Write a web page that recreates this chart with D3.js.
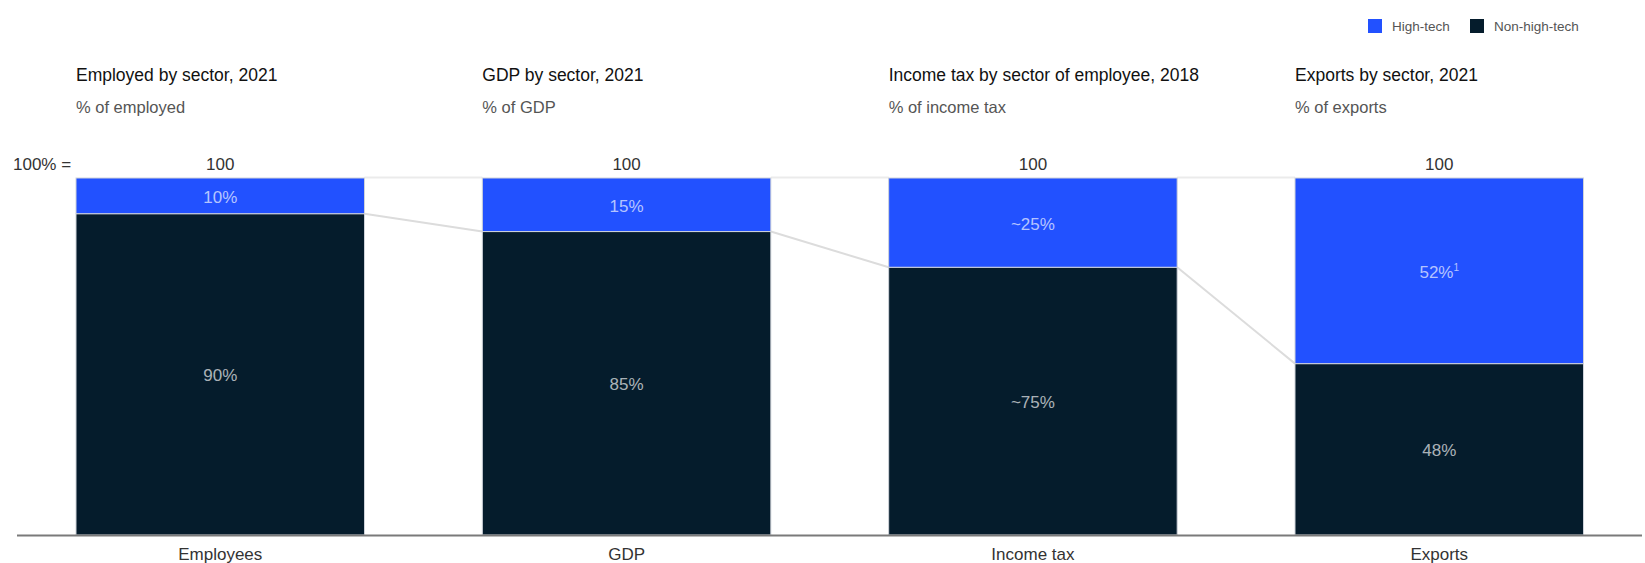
<!DOCTYPE html>
<html>
<head>
<meta charset="utf-8">
<script src="https://cdn.jsdelivr.net/npm/d3@7"></script>
<style>
  html, body { margin: 0; padding: 0; background: #fff; }
  svg { display: block; font-family: "Liberation Sans", Arial, Helvetica, sans-serif; }
</style>
</head>
<body>
<svg id="chart" width="1645" height="563"></svg>
<script>
// Share of high-tech vs non-high-tech sectors across four measures
const categories = ["Employees", "GDP", "Income tax", "Exports"];
const titles = [
  "Employed by sector, 2021",
  "GDP by sector, 2021",
  "Income tax by sector of employee, 2018",
  "Exports by sector, 2021"
];
const subtitles = ["% of employed", "% of GDP", "% of income tax", "% of exports"];
const totals = [100, 100, 100, 100];
const highTech = [10, 15, 25, 52];
const nonHighTech = [90, 85, 75, 48];
const highTechLabels = ["10%", "15%", "~25%", "52%"];
const nonHighTechLabels = ["90%", "85%", "~75%", "48%"];
const highTechNotes = ["", "", "", "1"];
const seriesNames = ["High-tech", "Non-high-tech"];

const colors = { high: "#2251FF", non: "#051C2C" };

const svg = d3.select("#chart");
const width = 1645;

const x = d3.scaleBand()
  .domain(categories)
  .range([76, 1583.5])
  .paddingInner(0.29)
  .paddingOuter(0);

const y = d3.scaleLinear().domain([0, 100]).range([535, 178]);

const rows = categories.map((c, i) => ({
  cat: c, i,
  high: highTech[i], non: nonHighTech[i],
  total: totals[i]
}));

// Connector lines between neighbouring bars: top edge and high-tech boundary
const conn = svg.append("g");
rows.slice(0, -1).forEach((d, i) => {
  const n = rows[i + 1];
  conn.append("line")
    .attr("x1", x(d.cat) + x.bandwidth()).attr("x2", x(n.cat))
    .attr("y1", y(100) - 0.5).attr("y2", y(100) - 0.5)
    .attr("stroke", "#ebebeb").attr("stroke-width", 2);
  conn.append("line")
    .attr("x1", x(d.cat) + x.bandwidth()).attr("x2", x(n.cat))
    .attr("y1", y(d.non)).attr("y2", y(n.non))
    .attr("stroke", "#dcdcdc").attr("stroke-width", 2);
});

// Stacked bars: non-high-tech at the bottom, high-tech on top
const bars = svg.append("g");
bars.selectAll("rect.non").data(rows).join("rect")
  .attr("class", "non")
  .attr("x", d => x(d.cat)).attr("width", x.bandwidth())
  .attr("y", d => y(d.non)).attr("height", d => y(0) - y(d.non))
  .attr("fill", colors.non)
  .attr("stroke", "#cfd3da").attr("stroke-width", 1);
bars.selectAll("rect.high").data(rows).join("rect")
  .attr("class", "high")
  .attr("x", d => x(d.cat)).attr("width", x.bandwidth())
  .attr("y", d => y(d.non + d.high)).attr("height", d => y(d.non) - y(d.non + d.high))
  .attr("fill", colors.high)
  .attr("stroke", "#cfd3da").attr("stroke-width", 1);

// Segment value labels
const lab = svg.append("g").attr("font-size", 17).attr("text-anchor", "middle");
rows.forEach((d, i) => {
  const cx = x(d.cat) + x.bandwidth() / 2;
  const t = lab.append("text")
    .attr("x", cx)
    .attr("y", (y(d.non) + y(d.non + d.high)) / 2 + 7)
    .attr("fill", "#fff").attr("fill-opacity", 0.68)
    .text(highTechLabels[i]);
  if (highTechNotes[i]) {
    t.append("tspan").attr("font-size", 10).attr("dy", -7).text(highTechNotes[i]);
  }
  lab.append("text")
    .attr("x", cx)
    .attr("y", (y(0) + y(d.non)) / 2 + 7)
    .attr("fill", "#fff").attr("fill-opacity", 0.68)
    .text(nonHighTechLabels[i]);
});

// Totals above each bar
const tot = svg.append("g").attr("font-size", 17).attr("fill", "#333").attr("text-anchor", "middle");
tot.selectAll("text").data(rows).join("text")
  .attr("x", d => x(d.cat) + x.bandwidth() / 2)
  .attr("y", 170)
  .text(d => d.total);
svg.append("text").attr("x", 13).attr("y", 170)
  .attr("font-size", 17).attr("fill", "#333").text("100% =");

// Panel titles and units
const head = svg.append("g");
rows.forEach((d, i) => {
  head.append("text").attr("x", x(d.cat)).attr("y", 81)
    .attr("font-size", 17.5).attr("fill", "#111").text(titles[i]);
  head.append("text").attr("x", x(d.cat)).attr("y", 113)
    .attr("font-size", 16.5).attr("fill", "#555").text(subtitles[i]);
});

// Baseline axis with category labels
const axis = svg.append("g").attr("transform", `translate(0,${y(0)})`)
  .call(d3.axisBottom(x).tickSize(0).tickPadding(13));
axis.select(".domain").remove();
axis.selectAll("text").attr("font-size", 17).attr("fill", "#333")
  .attr("font-family", "Liberation Sans, Arial, sans-serif");
svg.append("line").attr("x1", 17).attr("x2", 1642)
  .attr("y1", y(0) + 0.5).attr("y2", y(0) + 0.5)
  .attr("stroke", "#7a7a7a").attr("stroke-width", 2);

// Legend
const legend = svg.append("g").attr("font-size", 13.5).attr("fill", "#555");
const legendX = [1368, 1470];
seriesNames.forEach((name, i) => {
  legend.append("rect").attr("x", legendX[i]).attr("y", 19).attr("width", 14).attr("height", 14)
    .attr("fill", i === 0 ? colors.high : colors.non);
  legend.append("text").attr("x", legendX[i] + 24).attr("y", 31).attr("fill", "#555").text(name);
});
</script>
</body>
</html>
